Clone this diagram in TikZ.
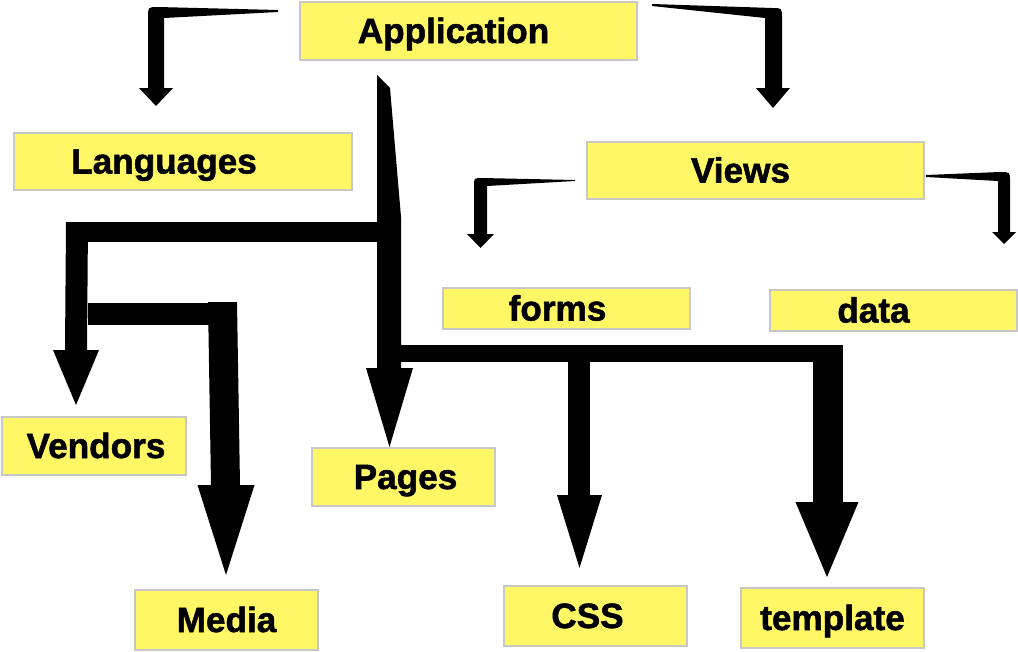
\documentclass[tikz,border=0pt]{standalone}
\usepackage{fontspec}
\setmainfont{Liberation Sans}[BoldFeatures={FakeBold=1.5}]
\usetikzlibrary{calc}
\tikzset{
	box/.style 2 args={draw=black!22, line width=0.05cm, fill=yellow!60, inner sep=0pt,
		minimum width=#1*0.025cm, minimum height=#2*0.025cm},
	txt/.style={inner sep=0pt, text height=0.6cm, text depth=0pt,
		font=\fontsize{25}{30}\selectfont\bfseries}
}
\def\downhead(#1,#2:#3:#4){\fill ({#1-#3/2}, #2) -- ({#1+#3/2}, #2) -- (#1, {#2+#4}) -- cycle;}

\begin{document}
\begin{tikzpicture}[x=0.025cm, y=-0.025cm]
	\useasboundingbox (0, 0) rectangle (1018, 651);
	%%%%% START %%%%%
	\node[box={337}{58}] (app) at (468.5, 31) {};
	\node[box={338}{57}] (lang) at (183, 161.5) {};
	\node[box={337}{57}] (views) at (755.5, 170.5) {};
	\node[box={247}{41}] (forms) at (566.5, 308.5) {};
	\node[box={247}{41}] (data) at (893.5, 310.5) {};
	\node[box={184}{58}] (vendors) at (94, 446) {};
	\node[box={183}{58}] (pages) at (403.5, 477) {};
	\node[box={183}{60}] (media) at (226.5, 620) {};
	\node[box={183}{60}] (css) at (595.5, 616) {};
	\node[box={183}{60}] (tmpl) at (832.5, 618) {};
	
	\node[txt] (appText) at ($(app)+(-15, 0)$) {Application};
	\node[txt] (langText) at ($(lang)+(-19, 0)$) {Languages};
	\node[txt] (viewsText) at ($(views)+(-15, 0)$) {Views};
	\node[txt] (formsText) at ($(forms)+(-9, 0)$) {forms};
	\node[txt] (dataText) at ($(data)+(-20, 0)$) {data};
	\node[txt] (vendorsText) at ($(vendors)+(2, 0)$) {Vendors};
	\node[txt] (pagesText) at ($(pages)+(2, 0)$) {Pages};
	\node[txt] (mediaText) at (media) {Media};
	\node[txt] (cssText) at ($(css)+(-8, 0)$) {CSS};
	\node[txt] (tmplText) at (tmpl) {template};
	
	% application -> languages, views
	\fill (278, 10) -- (158, 7) .. controls (148, 7) .. (148, 17) -- (148, 88) -- (164, 88) -- (164, 18) -- (278, 12) -- cycle;
	\downhead(156, 88:34:18)
	\fill (652, 4) -- (772, 8) .. controls (782, 8) .. (782, 18) -- (782, 88) -- (765, 88) -- (765, 18) -- (652, 6) -- cycle;
	\downhead(773, 88:34:20)
	
	% trunk -> pages
	\fill (377, 75) -- (390, 88) -- (401, 217) -- (401, 368) -- (377, 368) -- cycle;
	\downhead(389.5, 368:47:79)
	
	% left branch -> vendors, media
	\fill (66, 222) rectangle (377, 242);
	\fill (66, 222) -- (88, 222) -- (87, 350) -- (65, 350) -- cycle;
	\downhead(76, 350:46:55)
	\fill (88, 303) rectangle (210, 325);
	\fill (208, 302) -- (237, 302) -- (240, 485) -- (211, 485) -- cycle;
	\downhead(226, 485:57:90)
	
	% right branch -> css, template
	\fill (400, 345) rectangle (843, 362);
	\fill (568, 345) rectangle (590, 495);
	\downhead(579.5, 495:45:73)
	\fill (813, 345) rectangle (843, 502);
	\downhead(827, 502:63:75)
	
	% views -> forms, data
	\fill (575, 180) -- (482, 178) .. controls (474, 178) .. (474, 186) -- (474, 234) -- (487, 234) -- (487, 186) -- (575, 181) -- cycle;
	\downhead(480.5, 234:27:14)
	\fill (926, 175) -- (1000, 172) .. controls (1010, 172) .. (1010, 181) -- (1010, 232) -- (998, 232) -- (998, 181) -- (926, 177) -- cycle;
	\downhead(1004, 232:24:12)
	%%%%% END %%%%%
\end{tikzpicture}
\end{document}
